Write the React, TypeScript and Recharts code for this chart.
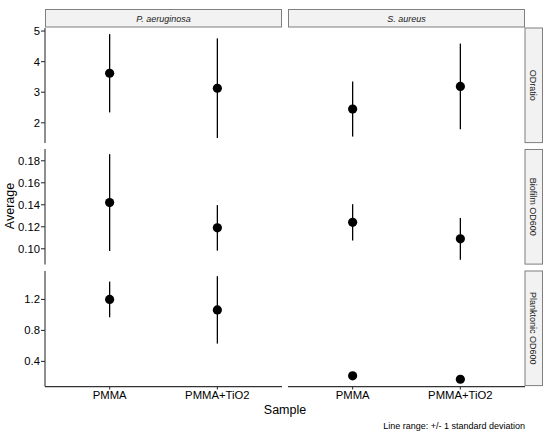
import { ScatterChart, Scatter, XAxis, YAxis, ErrorBar } from "recharts";

const categories = ["PMMA", "PMMA+TiO2"];
const species = ["P. aeruginosa", "S. aureus"];
const measures = ["ODratio", "Biofilm OD600", "Planktonic OD600"];

// means / sd per species: [P. aeruginosa, S. aureus], each [PMMA, PMMA+TiO2]
const odRatioMean = [[3.62, 3.13], [2.45, 3.19]];
const odRatioSd = [[1.28, 1.63], [0.9, 1.4]];
const biofilmMean = [[0.142, 0.119], [0.124, 0.109]];
const biofilmSd = [[0.044, 0.0207], [0.0165, 0.019]];
const planktonicMean = [[1.2, 1.065], [0.214, 0.17]];
const planktonicSd = [[0.23, 0.435], [0.015, 0.02]];

const yTicks = [[2, 3, 4, 5], [0.1, 0.12, 0.14, 0.16, 0.18], [0.4, 0.8, 1.2]];
const yDomains = [[1.32, 5.1], [0.0856, 0.1907], [0.075, 1.567]];
const yDigits = [0, 2, 1];

const means = [odRatioMean, biofilmMean, planktonicMean];
const sds = [odRatioSd, biofilmSd, planktonicSd];

const PANEL_LEFT = [45, 288];
const PANEL_W = 237;
const ROW_TOP = [27.5, 149, 270.5];
const PANEL_H = 115.6;
const Y_AXIS_W = 37;
const X_AXIS_H = 26;
const PAD_TOP = 6;
const FONT = "'Liberation Sans', Arial, sans-serif";

const Dot = (props: any) => <circle cx={props.cx} cy={props.cy} r={4.6} fill="#000" />;

function Panel({ row, col }: { row: number; col: number }) {
  const isLeft = col === 0;
  const isBottom = row === 2;
  const width = PANEL_W + (isLeft ? Y_AXIS_W : 0);
  const height = PANEL_H + PAD_TOP + (isBottom ? X_AXIS_H : 0);
  const left = isLeft ? PANEL_LEFT[0] - Y_AXIS_W : PANEL_LEFT[1];
  const data = categories.map((c, i) => ({
    x: i,
    sample: c,
    mean: means[row][col][i],
    sd: sds[row][col][i],
  }));

  return (
    <div style={{ position: "absolute", left, top: ROW_TOP[row] - PAD_TOP, width, height }}>
      <ScatterChart width={width} height={height} margin={{ top: PAD_TOP, right: 0, bottom: 0, left: 0 }}>
        <XAxis
          type="number"
          dataKey="x"
          domain={[-0.6, 1.6]}
          ticks={[0, 1]}
          tickFormatter={(i: number) => categories[i]}
          hide={!isBottom}
          height={X_AXIS_H}
          tickSize={3}
          tickMargin={1}
          axisLine={{ stroke: "#333", strokeWidth: 1.1 }}
          tickLine={{ stroke: "#333", strokeWidth: 1.1 }}
          tick={{ fill: "#000", fontSize: 11.3, fontFamily: FONT }}
          interval={0}
        />
        <YAxis
          type="number"
          dataKey="mean"
          domain={yDomains[row]}
          ticks={yTicks[row]}
          allowDataOverflow
          tickFormatter={(v: number) => v.toFixed(yDigits[row])}
          hide={!isLeft}
          width={Y_AXIS_W}
          tickSize={4}
          tickMargin={1}
          axisLine={{ stroke: "#333", strokeWidth: 1.1 }}
          tickLine={{ stroke: "#333", strokeWidth: 1.1 }}
          tick={{ fill: "#000", fontSize: 11.3, fontFamily: FONT }}
          interval={0}
        />
        <Scatter data={data} dataKey="mean" shape={Dot} isAnimationActive={false}>
          <ErrorBar dataKey="sd" direction="y" width={0} stroke="#000" strokeWidth={1.3} isAnimationActive={false} />
        </Scatter>
      </ScatterChart>
    </div>
  );
}

export default function App() {
  return (
    <div style={{ position: "absolute", left: 0, top: 0, width: 550, height: 433, background: "#fff", fontFamily: FONT }}>
      <svg width={550} height={433} style={{ position: "absolute", left: 0, top: 0 }}>
        {species.map((s, i) => (
          <g key={s}>
            <rect x={PANEL_LEFT[i] + 0.5} y={9.5} width={PANEL_W - 1} height={17.5} fill="#f2f2f2" stroke="#7f7f7f" strokeWidth={1} />
            <text x={PANEL_LEFT[i] + PANEL_W / 2} y={21.5} textAnchor="middle" fontSize={9} fontStyle="italic" fill="#1a1a1a" fontFamily={FONT}>
              {s}
            </text>
          </g>
        ))}
        {measures.map((m, r) => {
          const cx = 533.5;
          const cy = ROW_TOP[r] + PANEL_H / 2;
          return (
            <g key={m}>
              <rect x={525} y={ROW_TOP[r] + 0.5} width={17.5} height={PANEL_H - 1} fill="#f2f2f2" stroke="#7f7f7f" strokeWidth={1} />
              <text x={cx} y={cy} transform={`rotate(90 ${cx} ${cy})`} textAnchor="middle" dy="0.35em" fontSize={9} fill="#1a1a1a" fontFamily={FONT}>
                {m}
              </text>
            </g>
          );
        })}
        <text x={10} y={206} transform="rotate(-90 10 206)" textAnchor="middle" dy="0.35em" fontSize={12.5} fill="#000" fontFamily={FONT}>
          Average
        </text>
        <text x={285} y={414} textAnchor="middle" fontSize={12.5} fill="#000" fontFamily={FONT}>
          Sample
        </text>
        <text x={525} y={428.5} textAnchor="end" fontSize={9} fill="#000" fontFamily={FONT}>
          Line range: +/- 1 standard deviation
        </text>
      </svg>
      {[0, 1, 2].map((r) =>
        [0, 1].map((c) => <Panel key={`${r}-${c}`} row={r} col={c} />)
      )}
    </div>
  );
}
